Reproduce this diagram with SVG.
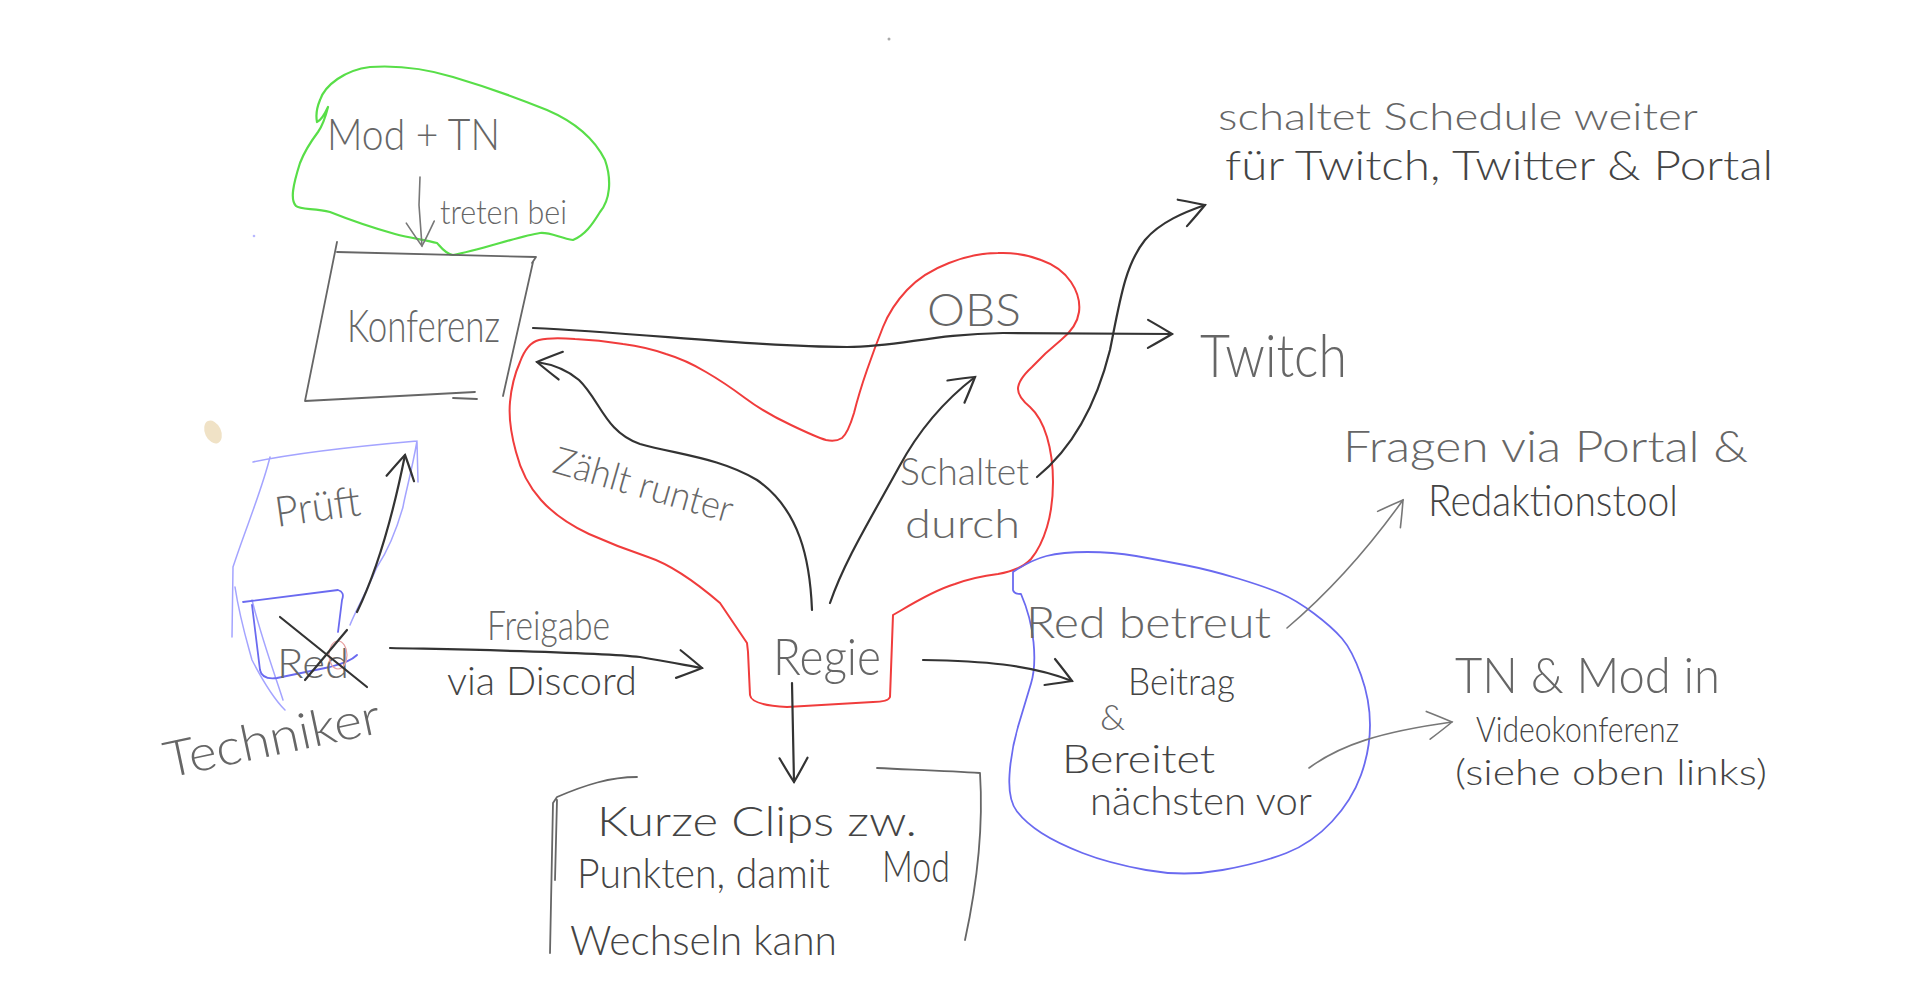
<svg xmlns="http://www.w3.org/2000/svg" width="1920" height="997" viewBox="0 0 1920 997">
<style>
.t{font-family:"Lato","Liberation Sans","DejaVu Sans",sans-serif;font-weight:300;fill:#666}
.td{fill:#444}
.ln{fill:none;stroke:#666;stroke-width:1.8;stroke-linecap:round;stroke-linejoin:round}
.cd{fill:none;stroke:#333;stroke-width:2.2;stroke-linecap:round;stroke-linejoin:round}
.cg{fill:none;stroke:#777;stroke-width:1.6;stroke-linecap:round;stroke-linejoin:round}
.green{fill:none;stroke:#58de48;stroke-width:2.2;stroke-linecap:round;stroke-linejoin:round}
.red{fill:none;stroke:#f03c3c;stroke-width:2;stroke-linecap:round;stroke-linejoin:round}
.blue{fill:none;stroke:#6a6af0;stroke-width:1.8;stroke-linecap:round;stroke-linejoin:round}
.lblue{fill:none;stroke:#a4a4ff;stroke-width:1.5;stroke-linecap:round;stroke-linejoin:round}
</style>
<defs>
<marker id="ahd" viewBox="-30 -18 34 36" refX="0" refY="0" markerWidth="34" markerHeight="36" markerUnits="userSpaceOnUse" orient="auto">
<path d="M-24,-14 Q-8,-5 0,0 Q-8,5 -24,14" fill="none" stroke="#333" stroke-width="2.2" stroke-linecap="round"/>
</marker>
<marker id="ahg" viewBox="-30 -18 34 36" refX="0" refY="0" markerWidth="34" markerHeight="36" markerUnits="userSpaceOnUse" orient="auto">
<path d="M-24,-14 Q-8,-5 0,0 Q-8,5 -24,14" fill="none" stroke="#777" stroke-width="1.6" stroke-linecap="round"/>
</marker>
</defs>
<rect width="1920" height="997" fill="#ffffff"/>

<!-- stray marks -->
<ellipse cx="213" cy="432" rx="8" ry="12" transform="rotate(-25 213 432)" fill="#f0e2c6"/>
<circle cx="889" cy="39" r="1.5" fill="#aaa"/>
<circle cx="254" cy="236" r="1.3" fill="#b8b8ff"/>

<g id="mod-tn">
<path class="green" d="M328,107 Q322,120 317,122 Q315,112 320,100 C325,85 345,70 370,67 C400,65 430,70 453,77 C480,85 510,95 547,110 C575,122 595,140 605,160 C612,180 610,200 600,212 C592,225 585,235 573,240 C560,238 550,232 540,233 C520,236 480,250 453,255 C445,254 440,246 437,243 C425,240 410,238 395,234 C370,227 345,218 330,212 C315,208 300,210 296,206 C290,200 293,185 300,163 C305,150 312,140 318,132 C323,125 326,115 328,107"/>
<text class="t" x="327" y="150" font-size="44" textLength="173" lengthAdjust="spacingAndGlyphs">Mod + TN</text>
<text class="t" x="440" y="224" font-size="34" textLength="127" lengthAdjust="spacingAndGlyphs">treten bei</text>
</g>

<g id="konferenz">
<path class="ln" d="M337,242 L305,401 L475,392 M337,252 L536,257 L532,263 M533,262 L503,396 M453,398 L477,399"/>
<text class="t" x="347" y="342" font-size="46" textLength="153" lengthAdjust="spacingAndGlyphs">Konferenz</text>
</g>

<g id="regie-group">
<path class="red" d="M720,603 Q678,567 648,557 Q618,547 589,534 Q559,520 541,500 Q523,480 516,452 Q508,423 510,402 Q512,380 520,362 Q527,343 539,340 Q551,337 575,339 Q599,340 623,344 Q646,347 666,354 Q686,360 706,372 Q725,383 745,398 Q765,413 791,425 Q816,437 826,440 Q836,442 842,438 Q848,433 854,413 Q859,393 867,370 Q875,347 883,327 Q891,307 907,290 Q923,273 949,263 Q974,253 998,253 Q1021,252 1041,260 Q1061,267 1071,282 Q1081,297 1079,312 Q1077,327 1061,340 Q1045,353 1032,367 Q1018,380 1018,389 Q1018,397 1030,407 Q1041,417 1047,437 Q1053,457 1053,482 Q1053,507 1047,527 Q1041,547 1031,559 Q1021,570 998,574 Q974,577 955,584 Q935,590 900,611 L893,615 L890,697 Q888,702 873,702 L787,707 Q751,705 750,695 L748,652 L747,643 L720,603"/>
</g>

<g id="obs">
<text class="t" x="927" y="326" font-size="46" textLength="94" lengthAdjust="spacingAndGlyphs">OBS</text>
</g>

<g id="regie">
<text class="t" x="773" y="675" font-size="52" textLength="108" lengthAdjust="spacingAndGlyphs">Regie</text>
</g>

<g id="zaehlt-runter">
<text class="t" x="551" y="472" font-size="38" textLength="185" lengthAdjust="spacingAndGlyphs" transform="rotate(16 551 472)">Zählt runter</text>
</g>

<g id="schaltet-durch">
<text class="t" x="900" y="485" font-size="38" textLength="129" lengthAdjust="spacingAndGlyphs">Schaltet</text>
<text class="t" x="905" y="538" font-size="40" textLength="115" lengthAdjust="spacingAndGlyphs">durch</text>
</g>

<g id="twitch">
<text class="t" x="1200" y="377" font-size="60" textLength="147" lengthAdjust="spacingAndGlyphs">Twitch</text>
</g>

<g id="schedule">
<text class="t" x="1218" y="130" font-size="38" textLength="480" lengthAdjust="spacingAndGlyphs">schaltet Schedule weiter</text>
<text class="t td" x="1225" y="180" font-size="42" textLength="548" lengthAdjust="spacingAndGlyphs">für Twitch, Twitter &amp; Portal</text>
</g>

<g id="techniker">
<path class="lblue" d="M253,462 C300,452 360,446 417,441 M417,441 C412,470 405,495 403,507 C395,535 385,555 377,567 C365,595 355,612 350,625 M270,457 C262,490 245,530 233,567 L232,637 M235,587 C240,620 248,645 252,660 C265,685 275,700 285,710 M418,482 L417,442 M252,600 C262,640 275,675 283,700"/>
<path class="blue" stroke="#5050e8" d="M243,602 L338,590 Q345,592 342,600 L338,632 M357,655 Q350,662 330,667 L277,678 Q262,680 260,670 L252,605"/>
<text class="t" x="277" y="527" font-size="42" textLength="86" lengthAdjust="spacingAndGlyphs" transform="rotate(-8 277 527)">Prüft</text>
<text class="t" x="277" y="678" font-size="42" textLength="72" lengthAdjust="spacingAndGlyphs">Red</text>
<ellipse cx="338" cy="655" rx="9" ry="14" fill="none" stroke="#e8a0a0" stroke-width="1.2"/>
<path class="cd" d="M280,617 L367,687 M347,630 L305,680"/>
<text class="t" x="168" y="778" font-size="50" textLength="220" lengthAdjust="spacingAndGlyphs" transform="rotate(-12 168 778)">Techniker</text>
</g>

<g id="freigabe">
<text class="t" x="487" y="640" font-size="42" textLength="123" lengthAdjust="spacingAndGlyphs">Freigabe</text>
<text class="t td" x="447" y="695" font-size="40" textLength="190" lengthAdjust="spacingAndGlyphs">via Discord</text>
</g>

<g id="clips">
<path class="ln" stroke="#999" d="M637,777 C610,777 585,785 557,797 L553,803 L550,953 M557,800 L555,880"/>
<path class="ln" d="M877,768 C920,770 950,771 980,773 C983,820 978,880 965,940"/>
<text class="t td" x="597" y="836" font-size="42" textLength="320" lengthAdjust="spacingAndGlyphs">Kurze Clips zw.</text>
<text class="t td" x="577" y="888" font-size="42" textLength="253" lengthAdjust="spacingAndGlyphs">Punkten, damit</text>
<text class="t td" x="882" y="882" font-size="44" textLength="68" lengthAdjust="spacingAndGlyphs">Mod</text>
<text class="t td" x="570" y="955" font-size="42" textLength="267" lengthAdjust="spacingAndGlyphs">Wechseln kann</text>
</g>

<g id="red">
<path class="blue" d="M1013,572 L1013,590 Q1014,594 1021,594 Q1031,617 1033.5,642 Q1036,667 1031,683.5 Q1026,700 1018.5,725 Q1011,750 1009.5,775 Q1008,800 1017,811.5 Q1026,823 1041.5,833 Q1057,843 1082.5,853 Q1108,863 1146,870 Q1184,877 1222.5,870 Q1261,863 1286.5,853 Q1312,843 1332,821.5 Q1352,800 1361,775 Q1370,750 1370,725 Q1370,700 1361,675 Q1352,650 1342,638.5 Q1332,627 1314,613.5 Q1296,600 1281,593.5 Q1266,587 1238,578.5 Q1210,570 1184.5,565 Q1159,560 1136,556 Q1113,552 1087.5,552 Q1062,552 1046.5,556 Q1031,560 1013,572"/>
<text class="t" x="1026" y="638" font-size="44" textLength="245" lengthAdjust="spacingAndGlyphs">Red betreut</text>
<text class="t td" x="1128" y="695" font-size="38" textLength="107" lengthAdjust="spacingAndGlyphs">Beitrag</text>
<text class="t" x="1100" y="730" font-size="36">&amp;</text>
<text class="t td" x="1062" y="773" font-size="40" textLength="153" lengthAdjust="spacingAndGlyphs">Bereitet</text>
<text class="t td" x="1090" y="815" font-size="40" textLength="222" lengthAdjust="spacingAndGlyphs">nächsten vor</text>
</g>

<g id="fragen">
<text class="t" x="1343" y="462" font-size="44" textLength="405" lengthAdjust="spacingAndGlyphs">Fragen via Portal &amp;</text>
<text class="t td" x="1428" y="516" font-size="44" textLength="250" lengthAdjust="spacingAndGlyphs">Redaktionstool</text>
</g>

<g id="tn-mod">
<text class="t" x="1455" y="693" font-size="50" textLength="265" lengthAdjust="spacingAndGlyphs">TN &amp; Mod in</text>
<text class="t td" x="1476" y="742" font-size="36" textLength="203" lengthAdjust="spacingAndGlyphs">Videokonferenz</text>
<text class="t td" x="1455" y="785" font-size="36" textLength="312" lengthAdjust="spacingAndGlyphs">(siehe oben links)</text>
</g>

<g id="connectors">
<path class="cg" marker-end="url(#ahg)" d="M420,177 L419,205 L422,246"/>
<path class="cd" stroke="#555" marker-end="url(#ahd)" d="M533,328 C640,333 760,347 847,347 C900,347 930,334 1003,333 L1172,334"/>
<path class="cd" stroke-width="2.6" marker-end="url(#ahd)" d="M812,610 C810,560 800,510 757,480 C720,458 680,455 640,444 C605,432 600,400 579,380 C565,368 550,364 537,362"/>
<path class="cd" stroke="#444" stroke-width="1.8" marker-end="url(#ahd)" d="M830,603 C845,560 870,520 899,467 C920,428 945,400 975,377"/>
<path class="cd" marker-end="url(#ahd)" d="M1037,477 C1070,450 1095,410 1110,350 C1120,300 1125,265 1145,240 C1160,222 1185,212 1205,205"/>
<path class="cd" stroke="#444" marker-end="url(#ahd)" d="M390,648 C480,650 600,652 640,657 C670,662 690,666 702,668"/>
<path class="cd" stroke="#444" marker-end="url(#ahd)" d="M923,660 C980,661 1030,664 1072,681"/>
<path class="cd" stroke="#444" marker-end="url(#ahd)" d="M792,683 L794,782"/>
<path class="cd" stroke="#444" marker-end="url(#ahd)" d="M357,612 C375,575 392,520 405,455"/>
<path class="cg" marker-end="url(#ahg)" d="M1287,628 C1320,600 1360,560 1403,500"/>
<path class="cg" stroke="#555" marker-end="url(#ahg)" d="M1309,768 C1340,745 1380,732 1452,722"/>
</g>
</svg>
